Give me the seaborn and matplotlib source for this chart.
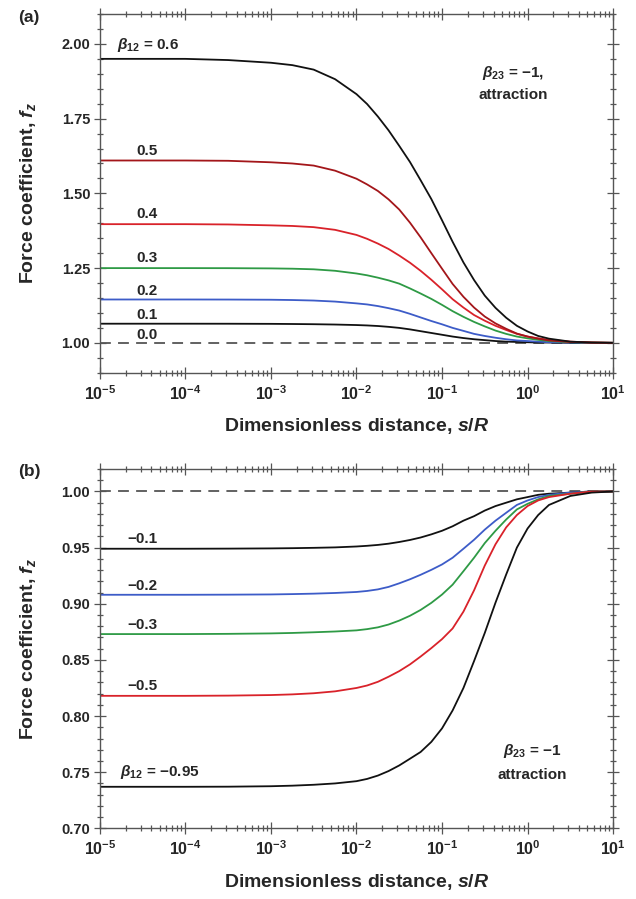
import numpy as np
import pandas as pd
import matplotlib
matplotlib.use("Agg")
import matplotlib.pyplot as plt
import seaborn as sns
from matplotlib.ticker import LogLocator, MultipleLocator, NullFormatter, FormatStrFormatter

# ---------------- data ----------------
s_over_R = [1e-5, 1e-4, 3.16e-4, 1e-3, 1.78e-3, 3.16e-3, 5.62e-3, 1e-2, 1.33e-2,
            1.78e-2, 2.37e-2, 3.16e-2, 4.22e-2, 5.62e-2, 7.50e-2, 0.1, 0.133,
            0.178, 0.237, 0.316, 0.422, 0.562, 0.750, 1.0, 1.33, 1.78, 3.16,
            5.62, 10.0]

# panel (a): beta23 = -1, beta12 > 0
fa_06 = [1.950, 1.950, 1.946, 1.937, 1.929, 1.914, 1.882, 1.832, 1.799, 1.757,
         1.711, 1.659, 1.605, 1.544, 1.481, 1.410, 1.338, 1.269, 1.210, 1.158,
         1.117, 1.084, 1.057, 1.038, 1.023, 1.014, 1.004, 1.001, 1.000]
fa_05 = [1.610, 1.610, 1.609, 1.604, 1.600, 1.593, 1.576, 1.549, 1.530, 1.508,
         1.480, 1.446, 1.402, 1.353, 1.300, 1.248, 1.197, 1.154, 1.118, 1.088,
         1.065, 1.047, 1.031, 1.021, 1.014, 1.008, 1.003, 1.001, 1.000]
fa_04 = [1.397, 1.397, 1.396, 1.393, 1.391, 1.387, 1.378, 1.361, 1.348, 1.332,
         1.314, 1.292, 1.268, 1.241, 1.211, 1.179, 1.146, 1.118, 1.093, 1.074,
         1.057, 1.043, 1.030, 1.021, 1.015, 1.010, 1.004, 1.001, 1.000]
fa_03 = [1.250, 1.250, 1.2498, 1.249, 1.248, 1.246, 1.241, 1.232, 1.226, 1.218,
         1.209, 1.198, 1.182, 1.165, 1.147, 1.127, 1.106, 1.087, 1.070, 1.055,
         1.041, 1.030, 1.021, 1.015, 1.010, 1.006, 1.002, 1.001, 1.000]
fa_02 = [1.145, 1.145, 1.1448, 1.1442, 1.1432, 1.1415, 1.138, 1.132, 1.1285, 1.123,
         1.116, 1.108, 1.097, 1.085, 1.073, 1.062, 1.050, 1.040, 1.030, 1.023,
         1.017, 1.012, 1.008, 1.006, 1.004, 1.002, 1.001, 1.000, 1.000]
fa_01 = [1.064, 1.064, 1.0639, 1.0635, 1.063, 1.0623, 1.0612, 1.0595, 1.0582, 1.0563,
         1.0535, 1.050, 1.045, 1.039, 1.033, 1.027, 1.021, 1.016, 1.012, 1.009,
         1.006, 1.004, 1.003, 1.002, 1.001, 1.001, 1.000, 1.000, 1.000]
fa_00_x = [1e-5, 10.0]
fa_00 = [1.0, 1.0]

# panel (b): beta23 = -1, beta12 < 0
fb_m01 = [0.949, 0.949, 0.9491, 0.9493, 0.9495, 0.9498, 0.9502, 0.9510, 0.9516, 0.9524,
          0.9535, 0.9550, 0.9568, 0.9590, 0.9618, 0.9650, 0.969, 0.974, 0.978, 0.983,
          0.987, 0.990, 0.993, 0.995, 0.997, 0.998, 0.999, 1.000, 1.000]
fb_m02 = [0.908, 0.908, 0.9081, 0.9083, 0.9086, 0.9090, 0.9096, 0.9105, 0.9114, 0.9128,
          0.9150, 0.9182, 0.9218, 0.9258, 0.9302, 0.9350, 0.941, 0.949, 0.957, 0.966,
          0.974, 0.981, 0.988, 0.992, 0.995, 0.997, 0.999, 1.000, 1.000]
fb_m03 = [0.873, 0.873, 0.8732, 0.8736, 0.8740, 0.8746, 0.8753, 0.8763, 0.8774, 0.8790,
          0.8815, 0.8850, 0.8893, 0.8945, 0.9008, 0.9082, 0.917, 0.929, 0.941, 0.954,
          0.965, 0.975, 0.984, 0.989, 0.993, 0.996, 0.998, 1.000, 1.000]
fb_m05 = [0.818, 0.818, 0.8182, 0.8187, 0.8193, 0.8203, 0.8220, 0.8250, 0.8272, 0.8305,
          0.8350, 0.8400, 0.8460, 0.8530, 0.8605, 0.8685, 0.878, 0.893, 0.912, 0.934,
          0.953, 0.968, 0.979, 0.987, 0.992, 0.995, 0.998, 1.000, 1.000]
fb_m095 = [0.737, 0.737, 0.7371, 0.7375, 0.7380, 0.7388, 0.7400, 0.7420, 0.7440, 0.7470,
           0.751, 0.756, 0.762, 0.768, 0.777, 0.789, 0.805, 0.825, 0.849, 0.874,
           0.901, 0.926, 0.950, 0.967, 0.979, 0.988, 0.996, 0.999, 1.000]
fb_00_x = [1e-5, 10.0]
fb_00 = [1.0, 1.0]

labels_a = ["0.5", "0.4", "0.3", "0.2", "0.1", "0.0"]
labels_b = ["\u22120.1", "\u22120.2", "\u22120.3", "\u22120.5"]
xtick_vals = [1e-5, 1e-4, 1e-3, 1e-2, 1e-1, 1e0, 1e1]

# ---------------- style ----------------
sns.set_theme(style="white")
plt.rcParams["font.family"] = ["Liberation Sans", "DejaVu Sans"]
plt.rcParams["font.weight"] = "bold"
plt.rcParams["mathtext.fontset"] = "custom"
plt.rcParams["mathtext.rm"] = "Liberation Sans:bold"
plt.rcParams["mathtext.bf"] = "Liberation Sans:bold"
plt.rcParams["mathtext.it"] = "Liberation Sans:bold:italic"
plt.rcParams["mathtext.default"] = "it"
plt.rcParams["axes.unicode_minus"] = True

BLACK = "#111111"
BROWN = "#a3161a"
RED = "#d9222a"
GREEN = "#2e9a45"
BLUE = "#3d5cc8"
DASH = "#555555"
SPINE = "#555555"

fig = plt.figure(figsize=(6.36, 8.99), dpi=100)
ax_a = fig.add_axes([0.157, 0.5854, 0.807, 0.399])
ax_b = fig.add_axes([0.157, 0.0786, 0.807, 0.3997])


def draw(ax, x, y, color, dashed=False):
    df = pd.DataFrame({"x": x, "y": y})
    if dashed:
        sns.lineplot(data=df, x="x", y="y", ax=ax, color=color, lw=1.3,
                     linestyle=(0, (6, 4)))
    else:
        sns.lineplot(data=df, x="x", y="y", ax=ax, color=color, lw=1.3)


draw(ax_a, fa_00_x, fa_00, DASH, dashed=True)
for ys, c in [(fa_01, BLACK), (fa_02, BLUE), (fa_03, GREEN), (fa_04, RED),
              (fa_05, BROWN), (fa_06, BLACK)]:
    draw(ax_a, s_over_R, ys, c)

draw(ax_b, fb_00_x, fb_00, DASH, dashed=True)
for ys, c in [(fb_m01, BLACK), (fb_m02, BLUE), (fb_m03, GREEN), (fb_m05, RED),
              (fb_m095, BLACK)]:
    draw(ax_b, s_over_R, ys, c)

for ax in (ax_a, ax_b):
    ax.set_xscale("log")
    ax.set_xlim(1e-5, 10)
    ax.set_xticks(xtick_vals)
    ax.xaxis.set_minor_locator(LogLocator(base=10, subs=np.arange(2, 10), numticks=20))
    ax.xaxis.set_minor_formatter(NullFormatter())
    ax.set_xlabel("")
    ax.set_ylabel("")
    for sp in ax.spines.values():
        sp.set_color(SPINE)
        sp.set_linewidth(1.0)
    ax.tick_params(which="both", direction="inout", top=True, right=True,
                   left=True, bottom=True, color=SPINE, width=0.9)
    ax.tick_params(which="major", length=8)
    ax.tick_params(which="minor", length=4)
    ax.tick_params(axis="x", which="major", labelsize=11.5, pad=4)
    ax.tick_params(axis="y", which="major", labelsize=10.5, pad=3)
    for lab in ax.get_xticklabels() + ax.get_yticklabels():
        lab.set_fontweight("bold")

ax_a.set_ylim(0.9, 2.1)
ax_a.set_yticks([1.0, 1.25, 1.5, 1.75, 2.0])
ax_a.yaxis.set_major_formatter(FormatStrFormatter("%.2f"))
ax_a.yaxis.set_minor_locator(MultipleLocator(0.05))

ax_b.set_ylim(0.70, 1.02)
ax_b.set_yticks([0.70, 0.75, 0.80, 0.85, 0.90, 0.95, 1.00])
ax_b.yaxis.set_major_formatter(FormatStrFormatter("%.2f"))
ax_b.yaxis.set_minor_locator(MultipleLocator(0.01))

# ---------------- annotations ----------------
TS = 11
ax_a.text(0.033, 0.9136, r"$\beta_{12}$ = 0.6", transform=ax_a.transAxes,
          fontsize=TS, fontweight="bold", va="center", ha="left")
for lab, yf in zip(labels_a, [0.619, 0.4416, 0.319, 0.2286, 0.161, 0.105]):
    ax_a.text(0.072, yf, lab, transform=ax_a.transAxes, fontsize=TS,
              fontweight="bold", va="center", ha="left")
ax_a.text(0.805, 0.836, r"$\beta_{23}$ = " + "\u22121,",
          transform=ax_a.transAxes, fontsize=TS, fontweight="bold",
          va="center", ha="center")
ax_a.text(0.805, 0.774, "attraction", transform=ax_a.transAxes, fontsize=TS,
          fontweight="bold", va="center", ha="center")

for lab, yf in zip(labels_b, [0.8043, 0.6745, 0.5658, 0.396]):
    ax_b.text(0.053, yf, lab, transform=ax_b.transAxes, fontsize=TS,
              fontweight="bold", va="center", ha="left")
ax_b.text(0.039, 0.1575, r"$\beta_{12}$ = " + "\u22120.95", transform=ax_b.transAxes,
          fontsize=TS, fontweight="bold", va="center", ha="left")
ax_b.text(0.843, 0.215, r"$\beta_{23}$ = " + "\u22121", transform=ax_b.transAxes,
          fontsize=TS, fontweight="bold", va="center", ha="center")
ax_b.text(0.843, 0.148, "attraction", transform=ax_b.transAxes, fontsize=TS,
          fontweight="bold", va="center", ha="center")

fig.text(0.028, 0.98, "(a)", fontsize=12.5, fontweight="bold", va="center", ha="left")
fig.text(0.028, 0.4753, "(b)", fontsize=12.5, fontweight="bold", va="center", ha="left")

YL = r"Force coefficient, $f_{z}$"
fig.text(0.044, 0.785, YL, rotation=90, fontsize=14, fontweight="bold",
         va="center", ha="center")
fig.text(0.044, 0.2784, YL, rotation=90, fontsize=14, fontweight="bold",
         va="center", ha="center")
XL = r"Dimensionless distance, $s$/$R$"
fig.text(0.5605, 1 - 426 / 899, XL, fontsize=14, fontweight="bold",
         va="center", ha="center")
fig.text(0.5605, 1 - 882 / 899, XL, fontsize=14, fontweight="bold",
         va="center", ha="center")

fig.savefig("out.png", dpi=100)
